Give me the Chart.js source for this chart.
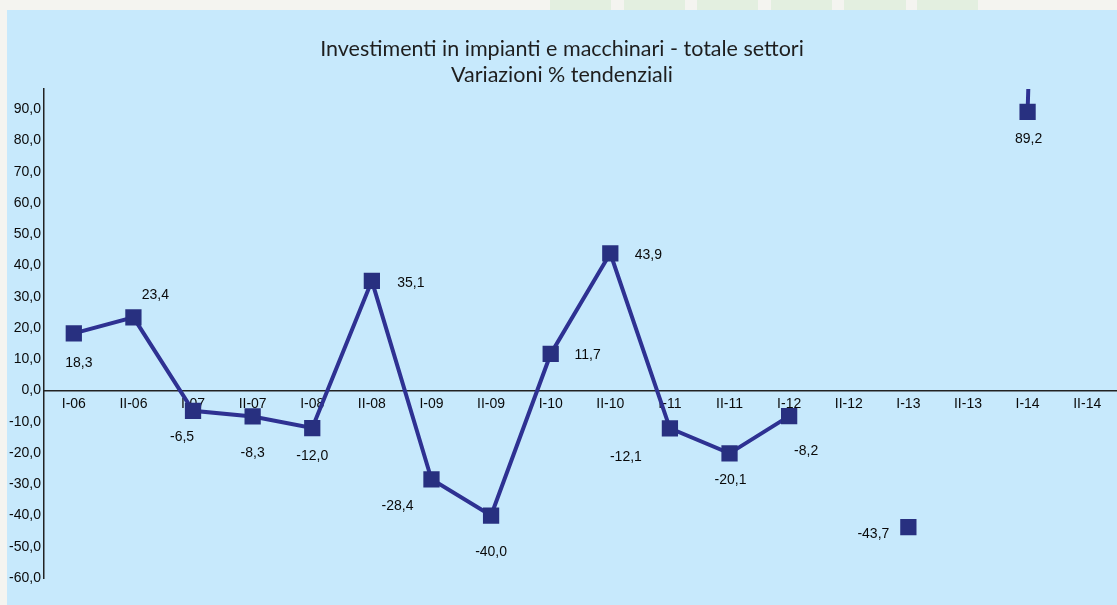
<!DOCTYPE html>
<html>
<head>
<meta charset="utf-8">
<script src="https://cdn.jsdelivr.net/npm/chart.js@4/dist/chart.umd.min.js"></script>
<style>
	html, body { margin: 0; padding: 0; background: #f4f4f0; width: 1117px; height: 605px; overflow: hidden; }
	.strip { position: absolute; top: 0; height: 10px; background: #e3efe0; }
	#box { position: absolute; left: 7px; top: 10px; width: 1110px; height: 595px; background: #c7e9fc; }
</style>
</head>
<body>
<div class="strip" style="left:550px;width:61px"></div>
<div class="strip" style="left:624px;width:61px"></div>
<div class="strip" style="left:697px;width:61px"></div>
<div class="strip" style="left:771px;width:61px"></div>
<div class="strip" style="left:844px;width:62px"></div>
<div class="strip" style="left:917px;width:61px"></div>
<div id="box"><canvas id="chart" width="1110" height="595"></canvas></div>
<script>
const periodi = ['I-06', 'II-06', 'I-07', 'II-07', 'I-08', 'II-08', 'I-09', 'II-09', 'I-10',
	'II-10', 'I-11', 'II-11', 'I-12', 'II-12', 'I-13', 'II-13', 'I-14', 'II-14']

// variazioni % tendenziali (II-14 fuori scala, si vede solo l'inizio del tratto)
const variazioni = [18.3, 23.4, -6.5, -8.3, -12.0, 35.1, -28.4, -40.0, 11.7,
	43.9, -12.1, -20.1, -8.2, null, -43.7, null, 89.2, 700]

const tickValori = [90, 80, 70, 60, 50, 40, 30, 20, 10, 0, -10, -20, -30, -40, -50, -60]

// spostamento delle etichette rispetto al punto [dx, dy]
const posEtichette = [
	[5, 30], [22, -22], [-11, 26], [0, 37], [0, 28], [39, 2], [-34, 27], [0, 37], [37, 1],
	[38, 2], [-44, 29], [1, 27], [17, 35], [0, 0], [-35, 7], [0, 0], [1, 27], [0, 0],
]

// se c'è il font stretto lo usiamo, altrimenti Liberation Sans più piccolo
function fontStretto() {
	const c = document.createElement('canvas').getContext('2d')
	c.font = '16px monospace'
	const base = c.measureText('II-14 -60,0').width
	c.font = '16px "Liberation Sans Narrow", monospace'
	return c.measureText('II-14 -60,0').width !== base
}
const fontAsse = fontStretto()
	? { family: "'Liberation Sans Narrow'", size: 16 }
	: { family: "'Liberation Sans', Arial", size: 14 }
const virgola = v => v.toFixed(1).replace('.', ',')

const etichettePlugin = {
	id: 'etichette',
	afterDatasetsDraw(chart) {
		const ctx = chart.ctx
		const area = chart.chartArea
		const meta = chart.getDatasetMeta(0)
		ctx.save()
		ctx.font = `${fontAsse.size}px ${fontAsse.family}`
		ctx.fillStyle = '#0a0a0a'
		ctx.textAlign = 'center'
		ctx.textBaseline = 'middle'
		meta.data.forEach((pt, i) => {
			const v = variazioni[i]
			if (v === null || pt.y < area.top || pt.y > area.bottom) return
			const [dx, dy] = posEtichette[i]
			ctx.fillText(virgola(v), pt.x + dx, pt.y + dy)
		})
		ctx.restore()
	},
}

new Chart(document.getElementById('chart'), {
	type: 'line',
	data: {
		labels: periodi,
		datasets: [{
			data: variazioni,
			borderColor: '#2e3192',
			borderWidth: 4,
			pointStyle: 'rect',
			pointRadius: 11.5,
			pointBackgroundColor: '#283080',
			pointBorderColor: '#283080',
			pointBorderWidth: 0,
			spanGaps: false,
			tension: 0,
		}],
	},
	options: {
		responsive: false,
		animation: false,
		layout: { autoPadding: false, padding: { top: 0, right: 0, bottom: 27, left: 0 } },
		plugins: {
			legend: { display: false },
			tooltip: { enabled: false },
			title: {
				display: true,
				text: ['Investimenti in impianti e macchinari - totale settori', 'Variazioni % tendenziali'],
				color: '#1e1e1e',
				font: { family: 'Lato', size: 21.5, weight: 'normal', lineHeight: '26px' },
				padding: { top: 26, bottom: 1 },
			},
		},
		scales: {
			x: {
				position: { y: 0 },
				offset: true,
				grid: { display: false, drawTicks: false },
				border: { color: '#222', width: 1.5 },
				ticks: { font: fontAsse, color: '#0a0a0a', padding: 5, maxRotation: 0, autoSkip: false },
			},
			y: {
				min: -60,
				max: 96.5,
				grid: { display: false, drawTicks: false },
				border: { color: '#222', width: 1.5 },
				afterBuildTicks: s => { s.ticks = tickValori.map(v => ({ value: v })) },
				afterFit: s => { s.width = 37 },
				ticks: { font: fontAsse, color: '#0a0a0a', padding: 3, callback: v => virgola(v) },
			},
		},
	},
	plugins: [etichettePlugin],
})
</script>
</body>
</html>
